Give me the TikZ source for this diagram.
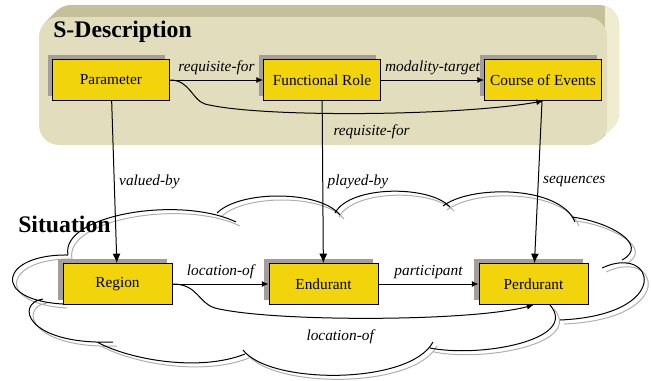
\documentclass[tikz,border=0pt]{standalone}
\usepackage{fontspec}
\setmainfont{Liberation Serif}
\newfontfamily\timesfont{Liberation Serif}
\usetikzlibrary{arrows.meta,shadows}
\definecolor{boxyellow}{RGB}{242,212,12}
\definecolor{boxshadow}{RGB}{163,158,155}
\definecolor{panelface}{RGB}{226,221,188}
\definecolor{paneltop}{RGB}{198,192,154}
\definecolor{panelside}{RGB}{240,236,208}
\definecolor{cloudgray}{RGB}{175,175,175}
\tikzset{
  concept/.style={draw, line width=0.75pt, fill=boxyellow, minimum width=87.75pt,
    minimum height=30.75pt, inner sep=0pt, font=\timesfont\fontsize{11.5}{13}\selectfont,
    general shadow={fill=boxshadow, shadow xshift=-3.75pt, shadow yshift=3.75pt}},
  thing/.style={concept, minimum width=81.75pt},
  title/.style={font=\timesfont\fontsize{17.8}{20}\selectfont\bfseries, inner sep=0pt, anchor=base west},
  rel/.style={font=\timesfont\fontsize{11.5}{13}\selectfont\itshape},
  link/.style={line width=0.75pt, -{Latex[length=5pt,width=4.5pt]}},
  vlink/.style={link, -{Latex[length=7pt,width=6pt]}},
}
\begin{document}
\begin{tikzpicture}[x=0.75pt,y=-0.75pt]
      \useasboundingbox (0,0) rectangle (651,380);
      % S-Description panel
      \foreach \d in {12,11,...,1}
        \fill[paneltop, rounded corners=15pt] ({39+\d},{17-\d}) rectangle ({607+\d},{145-\d});
      \begin{scope}
        \clip (605,0) rectangle (651,160);
        \foreach \d in {12,11,...,1}
          \fill[panelside, rounded corners=15pt] ({39+\d},{17-\d}) rectangle ({607+\d},{145-\d});
      \end{scope}
      \fill[panelface, rounded corners=15pt] (39,17) rectangle (607,145);
      % Situation cloud
      \foreach \s/\c in {4/cloudgray,0/black}{
        \draw[\c, line width=0.75pt, shift={(\s,\s)}]
          (68,255) .. controls (60,215) and (180,195) .. (236,222)
          (217,213) .. controls (240,190) and (320,190) .. (340,215)
          (335,213) .. controls (350,185) and (430,185) .. (450,207)
          (443,206) .. controls (470,185) and (560,185) .. (575,222)
          (572,217) .. controls (610,222) and (650,245) .. (622,260)
          (602,268) .. controls (655,243) and (675,315) .. (560,320)
          (550,305) .. controls (580,340) and (480,358) .. (430,348)
          (433,342) .. controls (410,385) and (270,385) .. (243,350)
          (245,354) .. controls (200,372) and (130,360) .. (97,342)
          (113,342) .. controls (25,345) and (15,303) .. (43,299)
          (63,304) .. controls (-10,300) and (0,254) .. (68,255);
      }
      \node[title] (sdesc) at (53,37) {S-Description};
      \node[title] (situation) at (18,232) {Situation};
      \path
        (111,80) node[concept] (param) {Parameter}
        (322,80) node[concept] (role) {Functional Role}
        (543,80) node[concept] (events) {Course of Events}
        (117.5,284) node[thing] (region) {Region}
        (323.5,284) node[thing] (endurant) {Endurant}
        (533.5,284) node[thing] (perdurant) {Perdurant};
      \begin{scope}[link]
        \draw (param) to node[above, rel] {requisite-for} (role);
        \draw (role) to node[above, rel] {modality-target} (events);
        \draw (region) to node[above, rel] {location-of} (endurant);
        \draw (endurant) to node[above, rel] {participant} (perdurant);
        \draw (param.east) .. controls (190,80) and (192,100) .. (205,104)
          .. controls (260,118) and (460,116) .. node[pos=0.52, below=5pt, rel] {requisite-for} (events.south);
        \draw (region.east) .. controls (198,284) and (198,303) .. (215,308)
          .. controls (270,322) and (470,322) .. node[pos=0.42, below=5pt, rel] {location-of} (perdurant.south);
      \end{scope}
      \begin{scope}[vlink]
        \draw (param) to node[right, rel] {valued-by} (region);
        \draw (role) to node[right, rel] {played-by} (endurant);
        \draw (events) to node[right, rel] {sequences} (perdurant);
      \end{scope}
    \end{tikzpicture}
\end{document}
